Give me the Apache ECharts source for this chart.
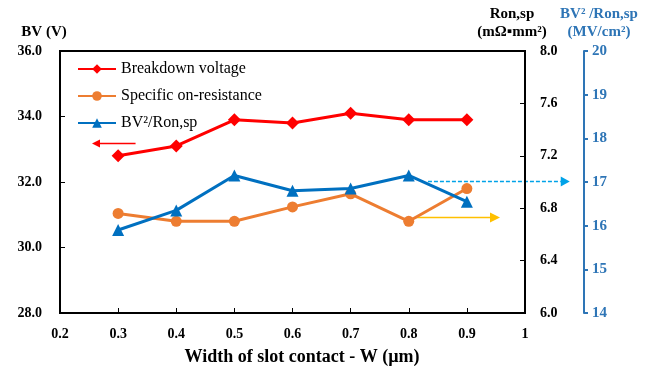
<!DOCTYPE html>
<html>
<head>
<meta charset="utf-8">
<script src="https://cdn.jsdelivr.net/npm/echarts@6/dist/echarts.min.js"></script>
<style>
  html, body { margin: 0; padding: 0; background: #fff; }
  #chart { width: 656px; height: 370px; }
</style>
</head>
<body>
<div id="chart"></div>
<script>
// Slot contact width sweep (µm)
const widths = [0.3, 0.4, 0.5, 0.6, 0.7, 0.8, 0.9];
// Breakdown voltage (V)
const breakdownVoltage = [32.8, 33.1, 33.9, 33.8, 34.1, 33.9, 33.9];
// Specific on-resistance (mΩ·mm²)
const onResistance = [6.76, 6.70, 6.70, 6.81, 6.91, 6.70, 6.95];
// Figure of merit BV²/Ron,sp (MV/cm²)
const figureOfMerit = [15.9, 16.35, 17.15, 16.8, 16.85, 17.15, 16.55];

const seriesNames = ['Breakdown voltage', 'Specific on-resistance', 'BV\u00b2/Ron,sp'];

const SERIF = '"Liberation Serif", "Times New Roman", serif';
const RED = '#ff0000', ORANGE = '#ed7d31', BLUE = '#0070c0', AXIS_BLUE = '#2e75b6';

const pairs = vals => widths.map((w, i) => [w, vals[i]]);

const chart = echarts.init(document.getElementById('chart'), null, { renderer: 'canvas' });

const tickLabel = { fontFamily: SERIF, fontWeight: 'bold', fontSize: 14, color: '#000' };

const option = {
  backgroundColor: '#fff',
  animation: false,
  grid: { left: 60, right: 131, top: 51, bottom: 57, show: true, borderColor: '#000', borderWidth: 2 },
  legend: {
    orient: 'vertical', left: 72, top: 56, itemWidth: 38, itemHeight: 12, itemGap: 11,
    textStyle: { fontFamily: SERIF, fontSize: 16, color: '#000' },
    data: seriesNames
  },
  xAxis: {
    type: 'value', min: 0.2, max: 1, interval: 0.1,
    axisLine: { show: true, lineStyle: { color: '#000', width: 2 } },
    axisTick: { show: true, inside: true, length: 5, lineStyle: { color: '#000', width: 1 } },
    axisLabel: Object.assign({ margin: 14, formatter: v => String(+v.toFixed(1)) }, tickLabel),
    splitLine: { show: false }
  },
  yAxis: [
    {
      type: 'value', min: 28, max: 36, interval: 2, position: 'left',
      axisLine: { show: true, lineStyle: { color: '#000', width: 2 } },
      axisTick: { show: true, inside: true, length: 5, lineStyle: { color: '#000', width: 1 } },
      axisLabel: Object.assign({ margin: 18, formatter: v => v.toFixed(1) }, tickLabel),
      splitLine: { show: false }
    },
    {
      type: 'value', min: 6, max: 8, interval: 0.4, position: 'right',
      axisLine: { show: true, lineStyle: { color: '#000', width: 2 } },
      axisTick: { show: true, inside: true, length: 5, lineStyle: { color: '#000', width: 1 } },
      axisLabel: Object.assign({ margin: 15, formatter: v => v.toFixed(1) }, tickLabel),
      splitLine: { show: false }
    },
    {
      type: 'value', min: 14, max: 20, interval: 1, position: 'right', offset: 59,
      axisLine: { show: true, lineStyle: { color: AXIS_BLUE, width: 2 } },
      axisTick: { show: true, inside: false, length: 4, lineStyle: { color: AXIS_BLUE, width: 2 } },
      axisLabel: Object.assign({}, tickLabel, { color: AXIS_BLUE, fontSize: 15, margin: 8 }),
      splitLine: { show: false }
    }
  ],
  series: [
    {
      name: seriesNames[0], type: 'line', yAxisIndex: 0, data: pairs(breakdownVoltage),
      symbol: 'diamond', symbolSize: 13,
      lineStyle: { color: RED, width: 3 }, itemStyle: { color: RED }
    },
    {
      name: seriesNames[1], type: 'line', yAxisIndex: 1, data: pairs(onResistance),
      symbol: 'circle', symbolSize: 11,
      lineStyle: { color: ORANGE, width: 3 }, itemStyle: { color: ORANGE }
    },
    {
      name: seriesNames[2], type: 'line', yAxisIndex: 2, data: pairs(figureOfMerit),
      symbol: 'triangle', symbolSize: 12,
      lineStyle: { color: BLUE, width: 3 }, itemStyle: { color: BLUE }
    }
  ]
};

chart.setOption(option);

// Arrows pointing each curve to its axis, given in data units of that curve's axis
const axisArrows = [
  { series: 0, from: [0.33, 33.18], to: [0.255, 33.18], color: RED, width: 1.5, dash: null, head: 8, half: 4 },
  { series: 1, from: [0.81, 6.73], to: [0.957, 6.73], color: '#ffc000', width: 1.5, dash: null, head: 10, half: 5 },
  { series: 2, from: [0.833, 17.03], to: [1.077, 17.03], color: '#00a2e8', width: 1.3, dash: [4, 2], head: 9, half: 5 }
];

function arrowGraphic(a) {
  const p0 = chart.convertToPixel({ seriesIndex: a.series }, a.from);
  const p1 = chart.convertToPixel({ seriesIndex: a.series }, a.to);
  const y = Math.round(p1[1]) + 0.5;
  const dir = p1[0] > p0[0] ? 1 : -1;
  const baseX = p1[0] - dir * a.head;
  return [
    {
      type: 'line', silent: true,
      shape: { x1: p0[0], y1: y, x2: baseX, y2: y },
      style: { stroke: a.color, lineWidth: a.width, lineDash: a.dash }
    },
    {
      type: 'polygon', silent: true,
      shape: { points: [[p1[0], y], [baseX, y - a.half], [baseX, y + a.half]] },
      style: { fill: a.color }
    }
  ];
}

const label = (text, x, y, color, size) => ({
  type: 'text', silent: true, x, y,
  style: { text, fill: color, fontFamily: SERIF, fontWeight: 'bold', fontSize: size, align: 'center' }
});

const graphics = [].concat(
  ...axisArrows.map(arrowGraphic),
  [
    label('BV (V)', 44, 25, '#000', 15),
    label('Ron,sp', 512, 7, '#000', 15),
    label('(m\u03a9\u25aamm\u00b2)', 512, 25, '#000', 15),
    label('BV\u00b2 /Ron,sp', 599, 7, AXIS_BLUE, 15),
    label('(MV/cm\u00b2)', 599, 25, AXIS_BLUE, 15),
    label('Width of slot contact - W (\u00b5m)', 302, 348, '#000', 18)
  ]
);

chart.setOption({ graphic: graphics });
</script>
</body>
</html>
